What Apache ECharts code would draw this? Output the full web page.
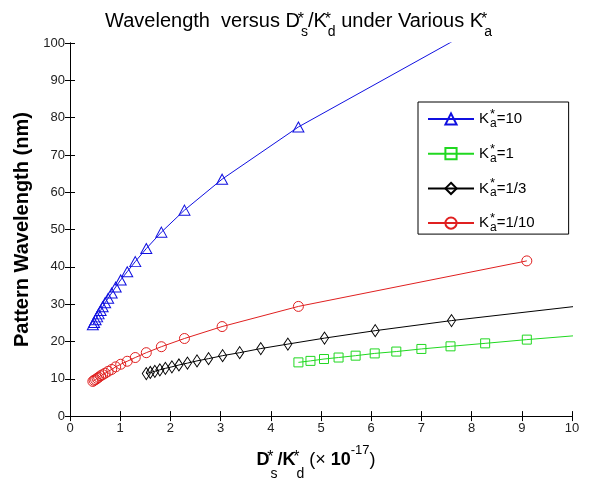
<!DOCTYPE html>
<html>
<head>
<meta charset="utf-8">
<script src="https://cdn.jsdelivr.net/npm/echarts@6/dist/echarts.min.js"></script>
<style>
	html, body { margin: 0; padding: 0; background: #fff; }
	#chart { width: 597px; height: 486px; }
</style>
</head>
<body>
<div id="chart"></div>
<script>
// values
const xTicks = [0, 10, 1];
const yTicks = [0, 100, 10];
const seriesNames = ["K*a=10", "K*a=1", "K*a=1/3", "K*a=1/10"];
const legendValues = ["10", "1", "1/3", "1/10"];

const blueX = [9.1, 4.55, 3.03, 2.28, 1.82, 1.52, 1.3, 1.14, 1.01, 0.91, 0.83, 0.76, 0.7, 0.65, 0.61, 0.57, 0.54, 0.51, 0.48, 0.455];
const blueY = [111.5, 77.5, 63.5, 55.2, 49.3, 44.9, 41.4, 38.7, 36.5, 34.6, 33.0, 31.6, 30.4, 29.3, 28.3, 27.4, 26.6, 25.8, 25.1, 24.5];

const greenX = [10.11, 9.1, 8.27, 7.58, 7.0, 6.5, 6.07, 5.69, 5.35, 5.06, 4.79, 4.55];
const greenY = [21.6, 20.5, 19.5, 18.7, 18.0, 17.3, 16.8, 16.2, 15.7, 15.3, 14.8, 14.4];

const blackX = [10.13, 7.6, 6.08, 5.07, 4.34, 3.8, 3.38, 3.04, 2.76, 2.53, 2.34, 2.17, 2.03, 1.9, 1.79, 1.69, 1.6, 1.52];
const blackY = [29.5, 25.6, 22.9, 20.9, 19.3, 18.1, 17.0, 16.2, 15.4, 14.8, 14.2, 13.7, 13.2, 12.8, 12.4, 12.0, 11.7, 11.4];

const redX = [9.1, 4.55, 3.03, 2.28, 1.82, 1.52, 1.3, 1.14, 1.01, 0.91, 0.83, 0.76, 0.7, 0.65, 0.61, 0.57, 0.54, 0.51, 0.48, 0.455];
const redY = [41.6, 29.4, 24.0, 20.8, 18.6, 17.0, 15.7, 14.7, 13.9, 13.2, 12.5, 12.0, 11.5, 11.1, 10.8, 10.4, 10.1, 9.8, 9.6, 9.3];

function pairs(xs, ys) {
	return xs.map((x, i) => [x, ys[i]]);
}

const font = "Liberation Sans, Arial, sans-serif";

// sup "*" gets zero width so the subscript sits right under it, like matlab.
// vertical shifts come from uneven padding (top pad pushes down, bottom pad pushes up)
function txt(size, weight, extra) {
	return Object.assign(
		{ fontSize: size, fontWeight: weight || "normal", fontFamily: font, color: "#000", verticalAlign: "middle" },
		extra
	);
}

function lineSeries(name, data, color, symbol, size) {
	return {
		name: name,
		type: "line",
		data: data,
		symbol: symbol,
		symbolSize: size,
		clip: true,
		lineStyle: { color: color, width: 1 },
		itemStyle: { color: "rgba(255,255,255,0)", borderColor: color, borderWidth: 1 },
		emphasis: { disabled: true },
		z: 3,
	};
}

let chart = echarts.init(document.getElementById("chart"));

let titleRich = {
	t: txt(20, "normal", { lineHeight: 24 }),
	sp: txt(16, "normal", { lineHeight: 16, width: 0, padding: [0, 0, 3, 1] }),
	sb: txt(14, "normal", { lineHeight: 14, padding: [22, 0, 0, 0] }),
};

let xNameRich = {
	b: txt(18, "bold", { lineHeight: 24 }),
	r: txt(18, "normal", { lineHeight: 24 }),
	sp: txt(16, "normal", { lineHeight: 16, width: 0, padding: [0, 0, 6, 1] }),
	sb: txt(14, "normal", { lineHeight: 14, padding: [27, 0, 0, 0] }),
	e: txt(13, "normal", { lineHeight: 13, padding: [0, 0, 20, 0] }),
};

let legendRich = {
	k: txt(15, "normal", { lineHeight: 24 }),
	sp: txt(13, "normal", { lineHeight: 13, width: 0, padding: [0, 0, 9, 1] }),
	sb: txt(12, "normal", { lineHeight: 12, padding: [9, 0, 0, 0] }),
};

chart.setOption({
	animation: false,
	backgroundColor: "#fff",
	textStyle: { fontFamily: font },
	title: {
		text: "{t|Wavelength  versus D}{sp|*}{sb|s}{t|/K}{sp|*}{sb|d}{t| under Various K}{sp|*}{sb|a}",
		left: "center",
		top: 9,
		padding: 0,
		textStyle: { rich: titleRich },
	},
	grid: { left: 70, right: 25, top: 43, bottom: 62, containLabel: false },
	legend: {
		orient: "vertical",
		left: 418,
		top: 102,
		itemWidth: 46,
		itemHeight: 14,
		itemGap: 12.7,
		padding: [6, 34, 0, 9],
		backgroundColor: "#fff",
		borderColor: "#000",
		borderWidth: 1,
		borderRadius: 0,
		selectedMode: false,
		data: seriesNames,
		formatter: function (name) {
			let i = seriesNames.indexOf(name);
			return "{k|K}{sp|*}{sb|a}{k|=" + legendValues[i] + "}";
		},
		textStyle: { rich: legendRich },
	},
	xAxis: [
		{
			type: "value",
			min: xTicks[0],
			max: xTicks[1],
			interval: xTicks[2],
			name: "{b|D}{sp|*}{sb|s}{b|/K}{sp|*}{sb|d}{r| (× }{b|10}{e|-17}{r|)}",
			nameLocation: "middle",
			nameGap: 27,
			nameTextStyle: { rich: xNameRich, padding: [0, 10, 0, 0] },
			axisLine: { lineStyle: { color: "#000", width: 1 } },
			axisTick: { inside: true, length: 5, lineStyle: { color: "#000" } },
			axisLabel: { color: "#222", fontSize: 13, margin: 6 },
			splitLine: { show: false },
		},
		{
			type: "value",
			position: "top",
			min: xTicks[0],
			max: xTicks[1],
			interval: xTicks[2],
			axisLine: { lineStyle: { color: "#000", width: 1 } },
			axisTick: { inside: true, length: 5, lineStyle: { color: "#000" } },
			axisLabel: { show: false },
			splitLine: { show: false },
		},
	],
	yAxis: [
		{
			type: "value",
			min: yTicks[0],
			max: yTicks[1],
			interval: yTicks[2],
			name: "Pattern Wavelength (nm)",
			nameLocation: "middle",
			nameGap: 35,
			nameTextStyle: { fontSize: 20, fontWeight: "bold", color: "#000", fontFamily: font },
			axisLine: { show: true, lineStyle: { color: "#000", width: 1 } },
			axisTick: { show: true, inside: true, length: 5, lineStyle: { color: "#000" } },
			axisLabel: { color: "#222", fontSize: 13, margin: 5 },
			splitLine: { show: false },
		},
		{
			type: "value",
			position: "right",
			min: yTicks[0],
			max: yTicks[1],
			interval: yTicks[2],
			axisLine: { show: true, lineStyle: { color: "#000", width: 1 } },
			axisTick: { show: true, inside: true, length: 5, lineStyle: { color: "#000" } },
			axisLabel: { show: false },
			splitLine: { show: false },
		},
	],
	series: [
		lineSeries(seriesNames[0], pairs(blueX, blueY), "#1010e0", "triangle", [11, 10]),
		lineSeries(seriesNames[1], pairs(greenX, greenY), "#20d820", "rect", 9),
		lineSeries(seriesNames[2], pairs(blackX, blackY), "#000000", "diamond", [8, 12]),
		lineSeries(seriesNames[3], pairs(redX, redY), "#e02020", "circle", 10),
	],
});
</script>
</body>
</html>
